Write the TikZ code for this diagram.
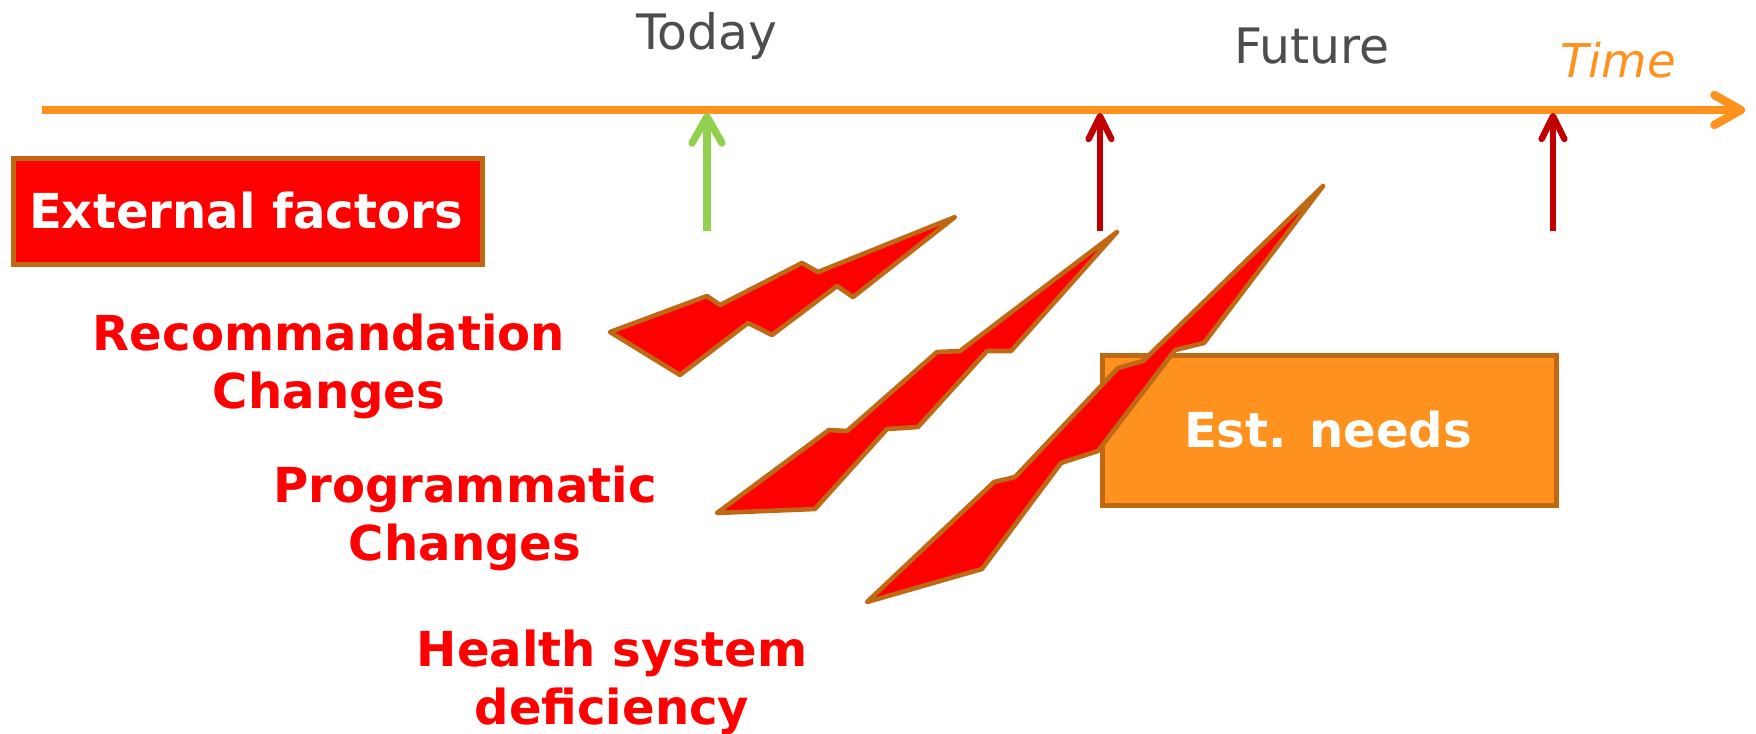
\documentclass[tikz,border=0pt]{standalone}
\usepackage{fontspec}
\setmainfont{DejaVu Sans}
\usepackage{tikz}
\usetikzlibrary{arrows.meta}
\definecolor{axis}{HTML}{FF921E}
\definecolor{rim}{HTML}{BF6914}
\definecolor{bolt}{HTML}{FF0000}
\definecolor{now}{HTML}{92D050}
\definecolor{later}{HTML}{C00000}
\definecolor{grey}{HTML}{4D4D4D}
\tikzset{
  lbl/.style={font=\fontsize{27.8}{33}\selectfont, text=grey, anchor=base, inner sep=0pt},
  heavy/.style={font=\fontsize{27.4}{33}\selectfont\bfseries, anchor=base, inner sep=0pt},
  red/.style={heavy, text=bolt, align=center},
  box/.style={draw=rim, line width=2.8pt, anchor=north west, inner sep=0pt},
  axisline/.style={draw=axis, line width=4.8pt, -{Straight Barb[length=15pt,width=17pt,round]}},
  tick/.style={line width=#1, -{Straight Barb[length=13pt,width=13pt,round]}},
  zap/.style={fill=bolt, draw=rim, line width=2.6pt, line join=round}
}

\begin{document}
\begin{tikzpicture}[x=0.02cm, y=-0.02cm]
\useasboundingbox (0,0) rectangle (1756,734);

% time axis
\coordinate (t0) at (42,110);
\coordinate (t1) at (1745,110);
\draw[axisline] (t0) -- (t1);

\node[lbl] (today) at (707,49) {Today};
\node[lbl] (future) at (1312,63) {Future};
\node[lbl, text=axis, font=\fontsize{26.5}{33}\selectfont\itshape] (time) at (1618,77) {Time};

% markers on the axis
\coordinate (a0) at (707,231);
\coordinate (a1) at (707,113);
\coordinate (b0) at (1100,231);
\coordinate (b1) at (1100,113);
\coordinate (c0) at (1553,231);
\coordinate (c1) at (1553,113);
\draw[tick=4.2pt, draw=now, -{Straight Barb[length=15pt,width=17pt,round]}] (a0) -- (a1);
\draw[tick=3.6pt, draw=later] (b0) -- (b1);
\draw[tick=3.6pt, draw=later] (c0) -- (c1);

% boxes
\node[box, fill=bolt, minimum width=9.38cm, minimum height=2.12cm] (ext) at (11,156) {};
\node[heavy, text=white] (extlbl) at (246,228) {External factors};
\node[box, fill=axis, minimum width=9.08cm, minimum height=3.0cm] (est) at (1100,353) {};
\node[heavy, text=white] (estlbl) at (1328,447) {Est. needs};

% lightning bolts
\draw[zap] (610,332) -- (680,375) -- (748,323) -- (772,335) -- (837,286) -- (853,297)
  -- (955,217) -- (818,272) -- (802,263) -- (720,305) -- (707,296) -- cycle;
\draw[zap] (717,513) -- (815,509) -- (887,429) -- (918,427) -- (987,351) -- (1011,351)
  -- (1117,232) -- (960,351) -- (937,352) -- (847,431) -- (829,430) -- cycle;
\draw[zap] (867,602) -- (982,569) -- (1061,463) -- (1098,451) -- (1175,350) -- (1204,343)
  -- (1323,186) -- (1143,361) -- (1118,368) -- (1015,477) -- (994,482) -- cycle;

\node[red] (rec) at (329,408) {Recommandation\\Changes};
\node[red] (prog) at (465,560) {Programmatic\\Changes};
\node[red] (hs) at (612,724) {Health system\\deficiency};
\end{tikzpicture}
\end{document}
